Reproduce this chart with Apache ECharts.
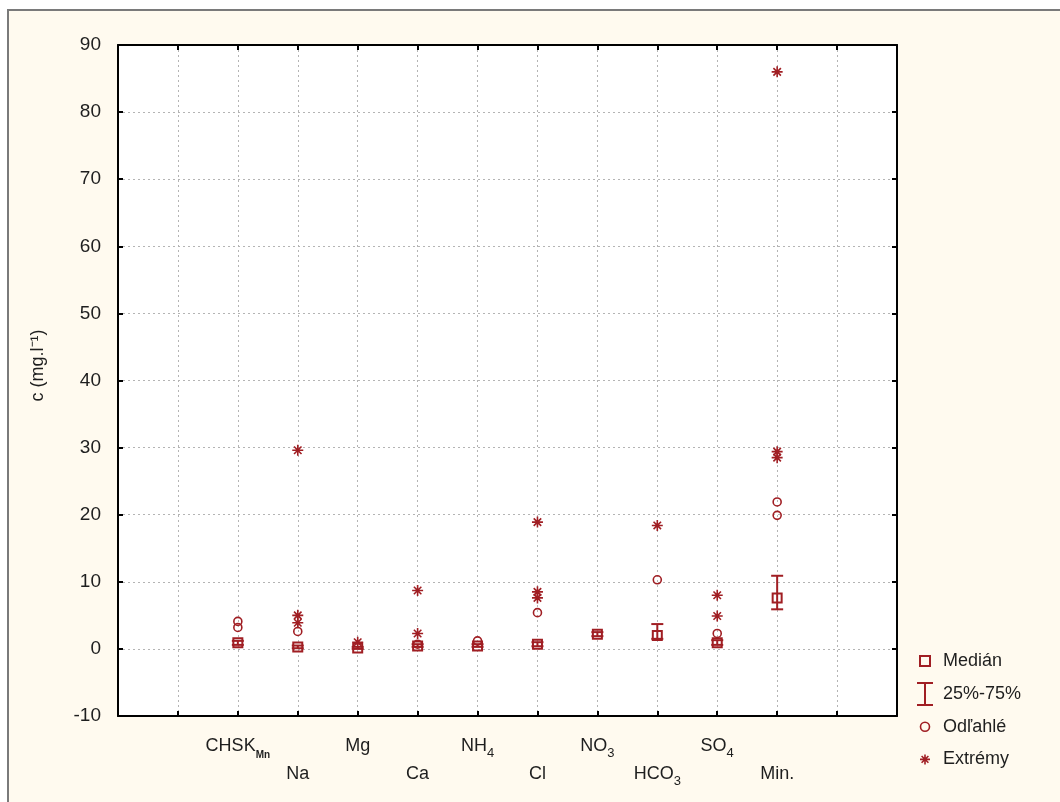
<!DOCTYPE html>
<html>
<head>
<meta charset="utf-8">
<script src="https://cdn.jsdelivr.net/npm/echarts@6/dist/echarts.min.js"></script>
<style>
  html, body { margin: 0; padding: 0; background: #ffffff; }
  #frame { position: absolute; left: 7px; top: 9px; width: 1053px; height: 793px;
           background: #fffaef; border-left: 2px solid #7a7a7a; border-top: 2px solid #7a7a7a; box-sizing: border-box; }
  #chart { position: absolute; left: 0; top: 0; width: 1060px; height: 802px; }
</style>
</head>
<body>
<div id="frame"></div>
<div id="chart"></div>
<script>
// ---- data ----
const categories = ['CHSK_Mn', 'Na', 'Mg', 'Ca', 'NH4', 'Cl', 'NO3', 'HCO3', 'SO4', 'Min.'];
const medians = [0.9, 0.3, 0.15, 0.45, 0.45, 0.7, 2.2, 2.0, 0.9, 7.6];
const q25 = [0.6, 0.1, 0.0, 0.3, 0.3, 0.4, 1.9, 1.5, 0.6, 5.9];
const q75 = [1.2, 0.5, 0.3, 0.7, 0.7, 1.0, 2.5, 3.7, 1.3, 10.9];
// [category index, value]
const outliers = [[0, 4.1], [0, 3.2], [1, 2.6], [3, 0.7], [4, 1.2], [5, 5.4], [7, 10.3], [8, 2.3], [9, 21.9], [9, 19.9]];
const extremes = [[1, 29.6], [1, 5.0], [1, 3.9], [2, 1.0], [3, 8.7], [3, 2.3], [5, 18.9], [5, 8.5], [5, 7.6],
                  [7, 18.4], [8, 8.0], [8, 4.9], [9, 86.0], [9, 29.4], [9, 28.5]];
const yTicks = { min: -10, max: 90, step: 10 };
const legendNames = ['Medián', '25%-75%', 'Odľahlé', 'Extrémy'];

// ---- rendering ----
const RED = '#a01e23';
const TEXT = '#1e1e1e';
const FONT = '"Liberation Sans", Arial, sans-serif';
const OFFSET = 2; // first category sits at x = 2 on the 0..13 axis

const labelRich = {
  a: { fontSize: 18, fontFamily: FONT, color: TEXT, lineHeight: 28 },
  s: { fontSize: 13, fontFamily: FONT, color: TEXT, lineHeight: 28, verticalAlign: 'bottom' },
  m: { fontSize: 10, fontFamily: FONT, fontWeight: 'bold', color: TEXT, lineHeight: 28, verticalAlign: 'bottom' }
};
function richLabel(name) {
  const subs = { 'CHSK_Mn': '{a|CHSK}{m|Mn}', 'NH4': '{a|NH}{s|4}', 'NO3': '{a|NO}{s|3}',
                 'HCO3': '{a|HCO}{s|3}', 'SO4': '{a|SO}{s|4}' };
  return subs[name] || ('{a|' + name + '}');
}

const medianData = medians.map((v, i) => [i + OFFSET, v]);
const boxData = q25.map((v, i) => [i + OFFSET, v, q75[i]]);
const outlierData = outliers.map(d => [d[0] + OFFSET, d[1]]);
const extremeData = extremes.map(d => [d[0] + OFFSET, d[1]]);

const ASTER = 'path://M0,5H10M5,0V10M1.6,1.6L8.4,8.4M8.4,1.6L1.6,8.4';

const chart = echarts.init(document.getElementById('chart'), null, { renderer: 'canvas' });
chart.setOption({
  backgroundColor: 'transparent',
  animation: false,
  textStyle: { fontFamily: FONT },
  grid: { left: 118, right: 163, top: 45, bottom: 86, show: true, backgroundColor: '#ffffff', borderWidth: 0 },
  xAxis: [{
    type: 'value', min: 0, max: 13, interval: 1,
    axisLine: { show: true, onZero: false, lineStyle: { color: '#000', width: 2 } },
    axisTick: { show: true, inside: true, length: 5, lineStyle: { color: '#000', width: 2 } },
    splitLine: { show: true, lineStyle: { color: '#b4b4b4', type: [2, 3], width: 1 } },
    axisLabel: {
      show: true, margin: 16, color: TEXT, fontSize: 18, lineHeight: 28, rich: labelRich,
      formatter: function (v) {
        const i = Math.round(v) - OFFSET;
        if (i < 0 || i >= categories.length) return '';
        const t = richLabel(categories[i]);
        return i % 2 === 1 ? '\n' + t : t;
      }
    }
  }, {
    type: 'value', min: 0, max: 13, interval: 1, position: 'top',
    axisLine: { show: true, onZero: false, lineStyle: { color: '#000', width: 2 } },
    axisTick: { show: true, inside: true, length: 5, lineStyle: { color: '#000', width: 2 } },
    splitLine: { show: false }, axisLabel: { show: false }
  }],
  yAxis: [{
    type: 'value', min: yTicks.min, max: yTicks.max, interval: yTicks.step,
    name: 'c (mg.l⁻¹)', nameLocation: 'middle', nameGap: 71,
    nameTextStyle: { color: TEXT, fontSize: 18, fontFamily: FONT, padding: [0, 0, 0, 30] },
    axisLine: { show: true, onZero: false, lineStyle: { color: '#000', width: 2 } },
    axisTick: { show: true, inside: true, length: 5, lineStyle: { color: '#000', width: 2 } },
    splitLine: { show: true, lineStyle: { color: '#b4b4b4', type: [2, 3], width: 1 } },
    axisLabel: { color: TEXT, fontSize: 19, fontFamily: FONT, margin: 17 }
  }, {
    type: 'value', min: yTicks.min, max: yTicks.max, interval: yTicks.step, position: 'right',
    axisLine: { show: true, onZero: false, lineStyle: { color: '#000', width: 2 } },
    axisTick: { show: true, inside: true, length: 5, lineStyle: { color: '#000', width: 2 } },
    splitLine: { show: false }, axisLabel: { show: false }
  }],
  legend: {
    orient: 'vertical', left: 908, top: 643, itemWidth: 22, itemHeight: 24, itemGap: 7,
    selectedMode: false,
    textStyle: { color: TEXT, fontSize: 18, fontFamily: FONT, padding: [0, 0, 0, 2] },
    itemStyle: { color: 'rgba(0,0,0,0)', borderColor: RED, borderWidth: 2 },
    data: [
      { name: legendNames[0], icon: 'path://M0,0M22,24M6,7H16V17H6Z' },
      { name: legendNames[1], icon: 'path://M0,0M22,24M3,1H19M11,1V23M3,23H19' },
      { name: legendNames[2], icon: 'path://M0,0M22,24M6.5,12A4.5,4.5 0 1 1 15.5,12A4.5,4.5 0 1 1 6.5,12Z',
        itemStyle: { borderWidth: 1.6 } },
      { name: legendNames[3], icon: 'path://M0,0M22,24M6,12H16M11,7V17M7.6,8.6L14.4,15.4M14.4,8.6L7.6,15.4',
        itemStyle: { borderWidth: 1.6 } }
    ]
  },
  series: [
    {
      name: legendNames[1], type: 'custom', silent: true, z: 3,
      renderItem: function (params, api) {
        const x = api.value(0);
        const lo = api.coord([x, api.value(1)]);
        const hi = api.coord([x, api.value(2)]);
        const w = 6;
        const st = { stroke: RED, lineWidth: 2 };
        return { type: 'group', children: [
          { type: 'line', shape: { x1: lo[0], y1: lo[1], x2: hi[0], y2: hi[1] }, style: st },
          { type: 'line', shape: { x1: lo[0] - w, y1: lo[1], x2: lo[0] + w, y2: lo[1] }, style: st },
          { type: 'line', shape: { x1: hi[0] - w, y1: hi[1], x2: hi[0] + w, y2: hi[1] }, style: st }
        ] };
      },
      encode: { x: 0, y: [1, 2] },
      data: boxData
    },
    {
      name: legendNames[0], type: 'scatter', silent: true, z: 4,
      symbol: 'rect', symbolSize: 9,
      itemStyle: { color: 'rgba(0,0,0,0)', borderColor: RED, borderWidth: 2, opacity: 1 },
      data: medianData
    },
    {
      name: legendNames[2], type: 'scatter', silent: true, z: 4,
      symbol: 'circle', symbolSize: 8,
      itemStyle: { color: 'rgba(0,0,0,0)', borderColor: RED, borderWidth: 1.6, opacity: 1 },
      data: outlierData
    },
    {
      name: legendNames[3], type: 'scatter', silent: true, z: 4,
      symbol: ASTER, symbolSize: 11,
      itemStyle: { color: 'rgba(0,0,0,0)', borderColor: RED, borderWidth: 1.6, opacity: 1 },
      data: extremeData
    }
  ]
});
</script>
</body>
</html>
